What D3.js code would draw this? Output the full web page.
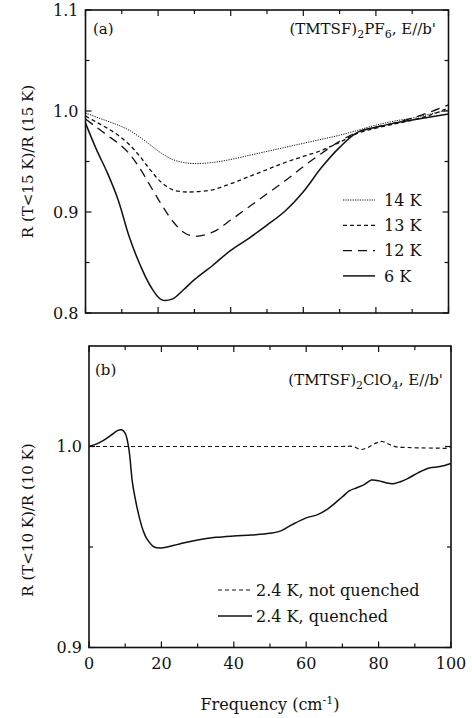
<!DOCTYPE html>
<html>
<head>
<meta charset="utf-8">
<script src="https://cdn.jsdelivr.net/npm/d3@7"></script>
<style>
  html, body { margin: 0; padding: 0; background: #fff; }
  svg { display: block; font-family: "DejaVu Serif", "Liberation Serif", serif; }
</style>
</head>
<body>
<div id="chart"></div>
<script>
// panel (a): (TMTSF)2PF6
const freqTop = [0, 3, 6, 9, 12, 15, 18, 21, 24, 27, 30, 35, 40, 45, 50, 55, 60, 65, 70, 75, 80, 85, 90, 95, 100];
const r14K = [0.998, 0.994, 0.990, 0.986, 0.981, 0.974, 0.966, 0.958, 0.952, 0.949, 0.948, 0.949, 0.952, 0.956, 0.960, 0.964, 0.968, 0.972, 0.976, 0.981, 0.986, 0.990, 0.993, 0.997, 1.001];
const r13K = [0.995, 0.989, 0.983, 0.976, 0.967, 0.955, 0.941, 0.929, 0.922, 0.920, 0.920, 0.922, 0.928, 0.935, 0.942, 0.949, 0.955, 0.961, 0.969, 0.978, 0.983, 0.987, 0.991, 0.996, 1.003];
const r12K = [0.992, 0.984, 0.976, 0.968, 0.958, 0.943, 0.925, 0.907, 0.891, 0.880, 0.876, 0.880, 0.892, 0.905, 0.918, 0.931, 0.945, 0.958, 0.970, 0.979, 0.984, 0.988, 0.993, 0.999, 1.006];
const r6K  = [0.988, 0.962, 0.939, 0.912, 0.876, 0.848, 0.826, 0.813, 0.814, 0.823, 0.833, 0.847, 0.862, 0.874, 0.887, 0.901, 0.920, 0.944, 0.964, 0.979, 0.984, 0.988, 0.991, 0.994, 0.997];
const labelsTop = ["14 K", "13 K", "12 K", "6 K"];

// panel (b): (TMTSF)2ClO4
const freqNQ = [0, 10, 20, 30, 40, 50, 60, 70, 73, 75, 77, 79, 81, 83, 85, 88, 92, 96, 99, 100];
const rNotQuenched = [1.000, 1.000, 1.000, 1.000, 1.000, 1.000, 1.000, 1.000, 1.000, 0.9985, 0.9995, 1.0015, 1.0025, 1.001, 0.9998, 0.9995, 0.9993, 0.9992, 0.9992, 1.000];
const freqQ = [0, 2, 4, 6, 8, 9, 10, 11, 12, 13, 14, 15, 16, 18, 20, 25, 30, 35, 40, 45, 50, 53, 56, 60, 63, 66, 70, 72, 74, 76, 78, 80, 82, 84, 86, 88, 91, 94, 97, 100];
const rQuenched = [1.000, 1.0012, 1.003, 1.0055, 1.008, 1.0083, 1.0065, 0.999, 0.982, 0.972, 0.964, 0.958, 0.954, 0.950, 0.9495, 0.9515, 0.9535, 0.9548, 0.9555, 0.956, 0.9568, 0.958, 0.961, 0.9645, 0.966, 0.969, 0.975, 0.978, 0.9795, 0.981, 0.9833, 0.983, 0.982, 0.9815, 0.9825, 0.984, 0.987, 0.9893, 0.990, 0.9915];
const labelsBottom = ["2.4 K, not quenched", "2.4 K, quenched"];

const xTicks = [0, 20, 40, 60, 80, 100];

const width = 472, height = 718;
const svg = d3.select("#chart").append("svg")
    .attr("width", width)
    .attr("height", height);

function drawFrame(g, x, y, yMajor, yMinor) {
    const [x0, x1] = x.range();
    const [y0, y1] = y.range();
    // inward ticks on all four sides
    const ticks = g.append("g").attr("stroke", "#111").attr("stroke-width", 1.2);
    d3.range(0, 101, 10).forEach(v => {
        const len = v % 20 === 0 ? 6 : 4;
        ticks.append("line").attr("x1", x(v)).attr("x2", x(v)).attr("y1", y0).attr("y2", y0 - len);
        ticks.append("line").attr("x1", x(v)).attr("x2", x(v)).attr("y1", y1).attr("y2", y1 + len);
    });
    yMajor.concat(yMinor).forEach(v => {
        const len = yMajor.includes(v) ? 6 : 4;
        ticks.append("line").attr("x1", x0).attr("x2", x0 + len).attr("y1", y(v)).attr("y2", y(v));
        ticks.append("line").attr("x1", x1).attr("x2", x1 - len).attr("y1", y(v)).attr("y2", y(v));
    });
    g.append("rect")
        .attr("x", x0).attr("y", y1)
        .attr("width", x1 - x0).attr("height", y0 - y1)
        .attr("fill", "none").attr("stroke", "#111").attr("stroke-width", 1.6);

    g.selectAll(".ytl").data(yMajor).join("text")
        .attr("x", x0 - 7).attr("y", d => y(d)).attr("dy", "0.36em")
        .attr("text-anchor", "end").attr("font-size", 16).attr("fill", "#111")
        .text(d => d.toFixed(1));
}

function drawLine(g, x, y, xs, ys, dash, w) {
    const line = d3.line()
        .x((d, i) => x(xs[i]))
        .y(d => y(d))
        .curve(d3.curveCatmullRom.alpha(0.5));
    g.append("path")
        .attr("d", line(ys))
        .attr("fill", "none")
        .attr("stroke", "#111")
        .attr("stroke-width", w)
        .attr("stroke-dasharray", dash);
}

// chemical formula with subscripts, right aligned
function formulaText(g, xPos, yPos, parts) {
    const t = g.append("text").attr("x", xPos).attr("y", yPos)
        .attr("text-anchor", "end").attr("font-size", 15).attr("fill", "#111");
    let shifted = false;
    parts.forEach(p => {
        const sp = t.append("tspan");
        if (p.sub) {
            sp.attr("dy", 4).attr("font-size", 11).text(p.sub);
            shifted = true;
        } else {
            if (shifted) sp.attr("dy", -4);
            shifted = false;
            sp.text(p.t);
        }
    });
}

// ---------- panel (a) ----------
const xa = d3.scaleLinear().domain([0, 100]).range([85.5, 448.5]);
const ya = d3.scaleLinear().domain([0.8, 1.1]).range([313, 10]);
const ga = svg.append("g");

const styleTop = [
    { v: r14K, dash: "1.2,1.2", w: 1.0 },
    { v: r13K, dash: "4,3", w: 1.3 },
    { v: r12K, dash: "9,6", w: 1.3 },
    { v: r6K, dash: null, w: 1.5 }
];
styleTop.forEach(s => drawLine(ga, xa, ya, freqTop, s.v, s.dash, s.w));
drawFrame(ga, xa, ya, [0.8, 0.9, 1.0, 1.1], [0.85, 0.95, 1.05]);

ga.append("text").attr("x", 93).attr("y", 34).attr("font-size", 15).attr("fill", "#111").text("(a)");
formulaText(ga, 436, 34, [{ t: "(TMTSF)" }, { sub: "2" }, { t: "PF" }, { sub: "6" }, { t: ", E//b'" }]);

const legA = ga.append("g");
labelsTop.forEach((lab, i) => {
    const yy = 200 + i * 25.3;
    legA.append("line").attr("x1", 343).attr("x2", 375).attr("y1", yy).attr("y2", yy)
        .attr("stroke", "#111").attr("stroke-width", styleTop[i].w)
        .attr("stroke-dasharray", styleTop[i].dash);
    legA.append("text").attr("x", 384).attr("y", yy).attr("dy", "0.36em")
        .attr("font-size", 16).attr("fill", "#111").text(lab);
});

ga.append("text")
    .attr("transform", `translate(33,${(10 + 313) / 2}) rotate(-90)`)
    .attr("text-anchor", "middle").attr("font-size", 15).attr("fill", "#111")
    .text("R (T<15 K)/R (15 K)");

// ---------- panel (b) ----------
const xb = d3.scaleLinear().domain([0, 100]).range([89, 451]);
const yb = d3.scaleLinear().domain([0.9, 1.05]).range([647.5, 346]);
const gb = svg.append("g");

drawLine(gb, xb, yb, freqNQ, rNotQuenched, "4,3", 1.2);
drawLine(gb, xb, yb, freqQ, rQuenched, null, 1.5);
drawFrame(gb, xb, yb, [0.9, 1.0], [0.95]);

gb.selectAll(".xtl").data(xTicks).join("text")
    .attr("x", d => xb(d)).attr("y", 669)
    .attr("text-anchor", "middle").attr("font-size", 16).attr("fill", "#111")
    .text(d => d);

gb.append("text").attr("x", 95).attr("y", 375).attr("font-size", 15).attr("fill", "#111").text("(b)");
formulaText(gb, 443, 385, [{ t: "(TMTSF)" }, { sub: "2" }, { t: "ClO" }, { sub: "4" }, { t: ", E//b'" }]);

const styleBottom = [{ dash: "4,3", w: 1.2 }, { dash: null, w: 1.5 }];
labelsBottom.forEach((lab, i) => {
    const yy = 590 + i * 26;
    gb.append("line").attr("x1", 218).attr("x2", 252).attr("y1", yy).attr("y2", yy)
        .attr("stroke", "#111").attr("stroke-width", styleBottom[i].w)
        .attr("stroke-dasharray", styleBottom[i].dash);
    gb.append("text").attr("x", 256).attr("y", yy).attr("dy", "0.36em")
        .attr("font-size", 16).attr("fill", "#111").text(lab);
});

gb.append("text")
    .attr("transform", `translate(33,520) rotate(-90)`)
    .attr("text-anchor", "middle").attr("font-size", 15).attr("fill", "#111")
    .text("R (T<10 K)/R (10 K)");

const xl = svg.append("text").attr("x", 270).attr("y", 710)
    .attr("text-anchor", "middle").attr("font-size", 16).attr("fill", "#111");
xl.append("tspan").text("Frequency (cm");
xl.append("tspan").attr("dy", -6).attr("font-size", 11).text("-1");
xl.append("tspan").attr("dy", 6).text(")");
</script>
</body>
</html>
